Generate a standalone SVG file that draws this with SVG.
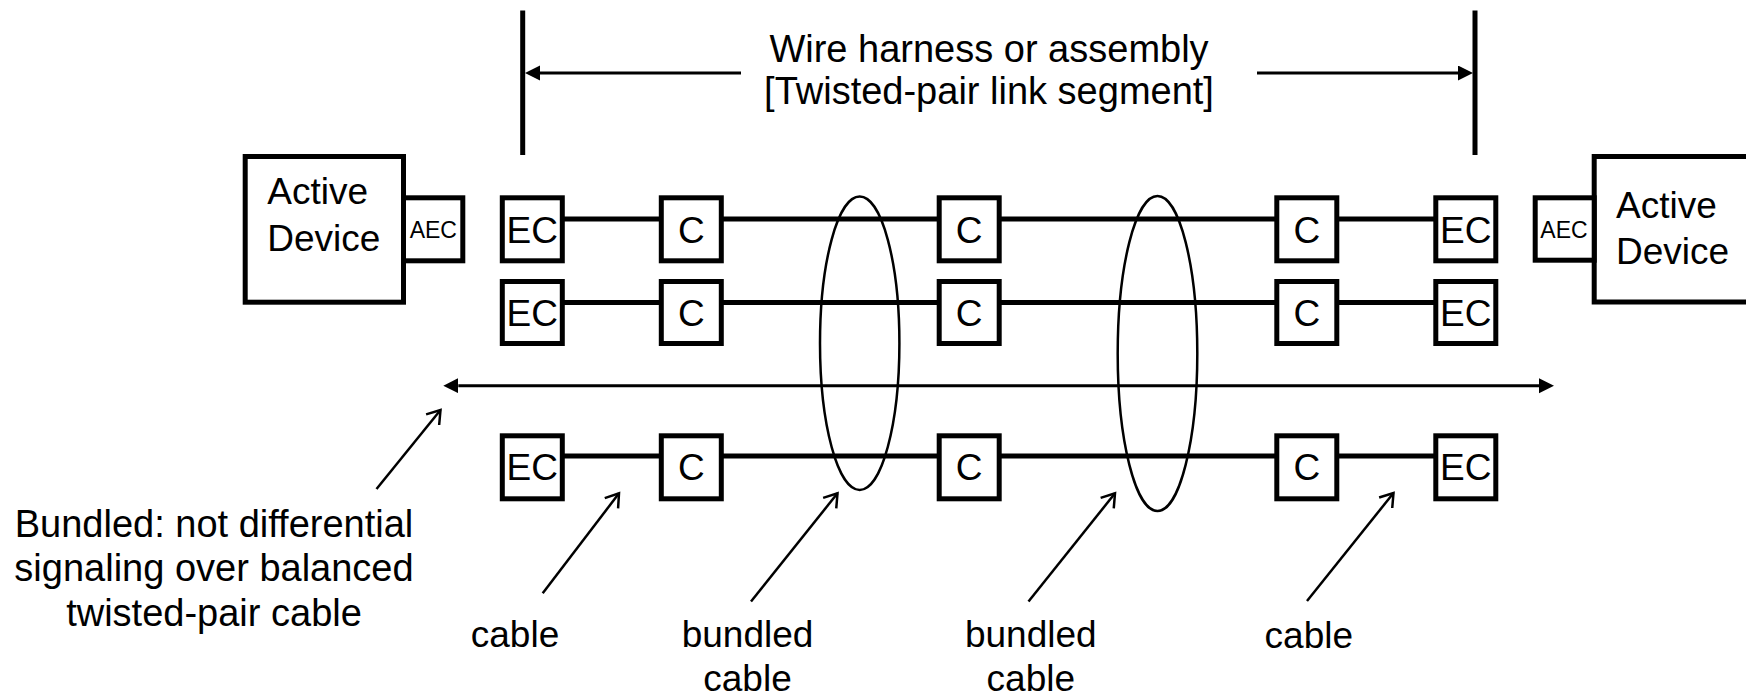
<svg xmlns="http://www.w3.org/2000/svg" width="1746" height="698" viewBox="0 0 1746 698">
<defs>
<style>
text{font-family:"Liberation Sans",Arial,sans-serif;fill:#000}
.big{font-size:37px}
.top{font-size:38px}
.small{font-size:23px}
.box{fill:#fff;stroke:#000;stroke-width:5}
.wire{stroke:#000;stroke-width:5;fill:none}
.bar{stroke:#000;stroke-width:5}
.dim{stroke:#000;stroke-width:3;fill:none}
.ell{fill:none;stroke:#000;stroke-width:2.5}
.ann{stroke:#000;stroke-width:2.5;fill:none}
</style>
<marker id="tri" markerUnits="userSpaceOnUse" markerWidth="16" markerHeight="16" viewBox="0 0 16 16" refX="0" refY="7.5" orient="auto-start-reverse">
<path d="M0,0 L15,7.5 L0,15 z" fill="#000"/>
</marker>
<marker id="open" markerUnits="userSpaceOnUse" markerWidth="20" markerHeight="20" viewBox="-16 -10 20 20" refX="0" refY="0" orient="auto" overflow="visible">
<path d="M-12.5,-8.4 L0,0 L-12.5,8.4" fill="none" stroke="#000" stroke-width="2.5"/>
</marker>
</defs>
<g id="connectors">
<line class="bar" x1="522.7" y1="10.5" x2="522.7" y2="155"/>
<line class="bar" x1="1475" y1="10.5" x2="1475" y2="155"/>
<line class="dim" x1="741" y1="73" x2="540" y2="73" marker-end="url(#tri)"/>
<line class="dim" x1="1257" y1="73" x2="1458" y2="73" marker-end="url(#tri)"/>
<line class="dim" x1="458.3" y1="385.7" x2="1539" y2="385.7" marker-start="url(#tri)" marker-end="url(#tri)"/>
<line class="wire" x1="532" y1="219" x2="1466" y2="219"/>
<line class="wire" x1="532" y1="302.5" x2="1466" y2="302.5"/>
<line class="wire" x1="532" y1="456" x2="1466" y2="456"/>
<line class="ann" x1="376.5" y1="489" x2="440.5" y2="410" marker-end="url(#open)"/>
<line class="ann" x1="542.7" y1="593.3" x2="619" y2="493.3" marker-end="url(#open)"/>
<line class="ann" x1="751" y1="601.5" x2="837.5" y2="493.3" marker-end="url(#open)"/>
<line class="ann" x1="1028.5" y1="601.5" x2="1115" y2="493.3" marker-end="url(#open)"/>
<line class="ann" x1="1307" y1="601" x2="1393.5" y2="493" marker-end="url(#open)"/>
</g>
<g id="title">
<text class="top" x="989" y="61.5" text-anchor="middle">Wire harness or assembly</text>
<text class="top" x="989" y="103.5" text-anchor="middle">[Twisted-pair link segment]</text>
</g>
<g id="active-left">
<rect class="box" x="245.2" y="156.5" width="158.3" height="145.7"/>
<text class="big" x="267.3" y="204">Active</text>
<text class="big" x="267.3" y="251">Device</text>
</g>
<g id="aec-left">
<rect class="box" x="403.5" y="197.8" width="59.3" height="63"/>
<text class="small" x="433.3" y="238" text-anchor="middle">AEC</text>
</g>
<g id="active-right">
<rect class="box" x="1594.2" y="156.5" width="200" height="145.5"/>
<text class="big" x="1616" y="218">Active</text>
<text class="big" x="1616" y="264">Device</text>
</g>
<g id="aec-right">
<rect class="box" x="1535.2" y="197.8" width="59" height="62.4"/>
<text class="small" x="1564" y="238.3" text-anchor="middle">AEC</text>
</g>
<g id="r1-ec-left"><rect class="box" x="502.3" y="197.8" width="60" height="63"/><text class="big" x="532.3" y="242.5" text-anchor="middle">EC</text></g>
<g id="r1-c1"><rect class="box" x="661.3" y="197.8" width="60" height="63"/><text class="big" x="691.3" y="242.5" text-anchor="middle">C</text></g>
<g id="r1-c2"><rect class="box" x="939.2" y="197.8" width="60" height="63"/><text class="big" x="969.2" y="242.5" text-anchor="middle">C</text></g>
<g id="r1-c3"><rect class="box" x="1276.8" y="197.8" width="60" height="63"/><text class="big" x="1306.8" y="242.5" text-anchor="middle">C</text></g>
<g id="r1-ec-right"><rect class="box" x="1435.8" y="197.8" width="60" height="63"/><text class="big" x="1465.8" y="242.5" text-anchor="middle">EC</text></g>
<g id="r2-ec-left"><rect class="box" x="502.3" y="281.5" width="60" height="62"/><text class="big" x="532.3" y="326" text-anchor="middle">EC</text></g>
<g id="r2-c1"><rect class="box" x="661.3" y="281.5" width="60" height="62"/><text class="big" x="691.3" y="326" text-anchor="middle">C</text></g>
<g id="r2-c2"><rect class="box" x="939.2" y="281.5" width="60" height="62"/><text class="big" x="969.2" y="326" text-anchor="middle">C</text></g>
<g id="r2-c3"><rect class="box" x="1276.8" y="281.5" width="60" height="62"/><text class="big" x="1306.8" y="326" text-anchor="middle">C</text></g>
<g id="r2-ec-right"><rect class="box" x="1435.8" y="281.5" width="60" height="62"/><text class="big" x="1465.8" y="326" text-anchor="middle">EC</text></g>
<g id="r3-ec-left"><rect class="box" x="502.3" y="435.8" width="60" height="63"/><text class="big" x="532.3" y="480" text-anchor="middle">EC</text></g>
<g id="r3-c1"><rect class="box" x="661.3" y="435.8" width="60" height="63"/><text class="big" x="691.3" y="480" text-anchor="middle">C</text></g>
<g id="r3-c2"><rect class="box" x="939.2" y="435.8" width="60" height="63"/><text class="big" x="969.2" y="480" text-anchor="middle">C</text></g>
<g id="r3-c3"><rect class="box" x="1276.8" y="435.8" width="60" height="63"/><text class="big" x="1306.8" y="480" text-anchor="middle">C</text></g>
<g id="r3-ec-right"><rect class="box" x="1435.8" y="435.8" width="60" height="63"/><text class="big" x="1465.8" y="480" text-anchor="middle">EC</text></g>
<g id="bundle-1"><ellipse class="ell" cx="859.7" cy="343.3" rx="39.7" ry="146.7"/></g>
<g id="bundle-2"><ellipse class="ell" cx="1157.5" cy="353.5" rx="39.8" ry="157.5"/></g>
<g id="labels">
<text class="top" x="214" y="536.5" text-anchor="middle">Bundled: not differential</text>
<text class="top" x="214" y="581" text-anchor="middle">signaling over balanced</text>
<text class="top" x="214" y="625.5" text-anchor="middle">twisted-pair cable</text>
<text class="big" x="515" y="647" text-anchor="middle">cable</text>
<text class="big" x="747.5" y="647" text-anchor="middle">bundled</text>
<text class="big" x="747.5" y="691" text-anchor="middle">cable</text>
<text class="big" x="1030.8" y="647" text-anchor="middle">bundled</text>
<text class="big" x="1030.8" y="691" text-anchor="middle">cable</text>
<text class="big" x="1308.8" y="648" text-anchor="middle">cable</text>
</g>
</svg>
